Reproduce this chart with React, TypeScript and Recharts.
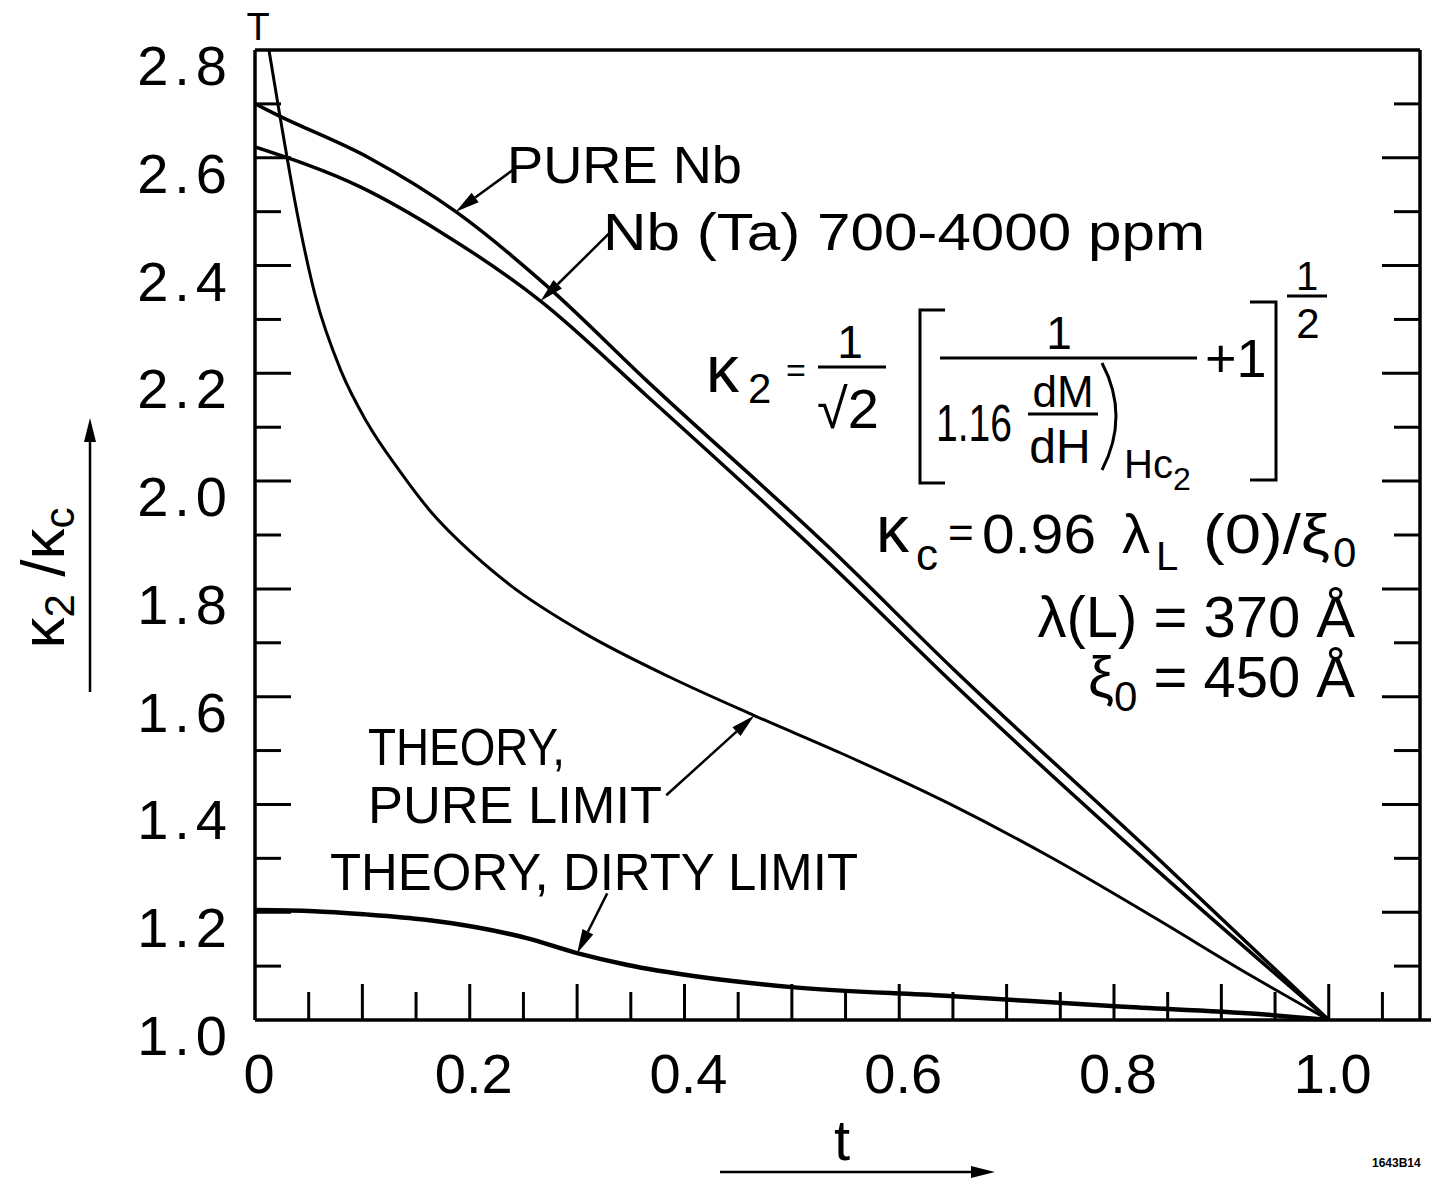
import React from "react"
import { LineChart, Line, XAxis, YAxis, ReferenceLine } from "recharts"

// reduced temperature t and kappa2/kappa_c
const pureNbT = [0, 0.02, 0.106, 0.187, 0.273, 0.365, 0.534, 0.651, 0.836, 1.0]
const pureNbK = [2.7, 2.68, 2.6, 2.5, 2.36, 2.186, 1.878, 1.65, 1.309, 1.0]

const nbTaT = [0, 0.099, 0.173, 0.266, 0.365, 0.534, 0.651, 0.836, 1.0]
const nbTaK = [2.62, 2.545, 2.462, 2.334, 2.158, 1.849, 1.623, 1.285, 1.0]

const pureLimitT = [
  0.013, 0.023, 0.039, 0.056, 0.08, 0.104, 0.135, 0.163, 0.2045, 0.237,
  0.3075, 0.3866, 0.465, 0.546, 0.648, 0.742, 0.836, 0.927, 1.0,
]
const pureLimitK = [
  2.8, 2.68, 2.5, 2.345, 2.205, 2.11, 2.018, 1.945, 1.862, 1.808,
  1.717, 1.636, 1.565, 1.495, 1.4, 1.301, 1.192, 1.083, 1.0,
]

const dirtyLimitT = [0, 0.055, 0.103, 0.159, 0.206, 0.253, 0.3, 0.347, 0.41, 0.5, 0.643, 0.805, 0.935, 1.0]
const dirtyLimitK = [1.204, 1.202, 1.196, 1.186, 1.172, 1.152, 1.124, 1.102, 1.081, 1.061, 1.045, 1.025, 1.011, 1.0]

const tTicks = [
  0, 0.05, 0.1, 0.15, 0.2, 0.25, 0.3, 0.35, 0.4, 0.45, 0.5,
  0.55, 0.6, 0.65, 0.7, 0.75, 0.8, 0.85, 0.9, 0.95, 1.0, 1.05,
]
const tLabelValues = [0, 0.2, 0.4, 0.6, 0.8, 1.0]
const tLabels = ["0", "0.2", "0.4", "0.6", "0.8", "1.0"]

const kTicks = [1.0, 1.1, 1.2, 1.3, 1.4, 1.5, 1.6, 1.7, 1.8, 1.9, 2.0, 2.1, 2.2, 2.3, 2.4, 2.5, 2.6, 2.7, 2.8]
const kLabelValues = [1.0, 1.2, 1.4, 1.6, 1.8, 2.0, 2.2, 2.4, 2.6, 2.8]
const kLabels = ["1.0", "1.2", "1.4", "1.6", "1.8", "2.0", "2.2", "2.4", "2.6", "2.8"]

const T_DOMAIN: [number, number] = [0, 1.085]
const K_DOMAIN: [number, number] = [1.0, 2.8]

const FONT = "'Liberation Sans', Arial, sans-serif"
const INK = "#000"

function zip(ts: number[], ks: number[]) {
  return ts.map((t, i) => ({ t, k: ks[i] }))
}

function labelFor(v: number, values: number[], labels: string[]) {
  const i = values.findIndex((x) => Math.abs(x - v) < 1e-6)
  return i >= 0 ? labels[i] : null
}

const isEdge = (v: number, lo: number, hi: number) => Math.abs(v - lo) < 1e-6 || Math.abs(v - hi) < 1e-6

// ticks point inward, long ones on every 0.1 in t / 0.2 in kappa
function BottomTick(props: any) {
  const { x, y, payload } = props
  const v = payload.value as number
  const major = Math.round(v * 20) % 2 === 0
  const len = v === 0 ? 0 : major ? 36 : 28
  const label = labelFor(v, tLabelValues, tLabels)
  return (
    <g>
      {len > 0 && <line x1={x} y1={y} x2={x} y2={y - len} stroke={INK} strokeWidth={3} />}
      {label && (
        <text x={x + 4} y={y + 73} textAnchor="middle" fontFamily={FONT} fontSize={56} fill={INK}>
          {label}
        </text>
      )}
    </g>
  )
}

function TopTick(props: any) {
  const { x, y, payload } = props
  const v = payload.value as number
  const major = Math.round(v * 20) % 2 === 0
  const len = v === 0 ? 0 : major ? 33 : 23
  return len > 0 ? <line x1={x} y1={y} x2={x} y2={y + len} stroke={INK} strokeWidth={3} /> : <g />
}

function LeftTick(props: any) {
  const { x, y, payload } = props
  const v = payload.value as number
  const major = Math.round(v * 10) % 2 === 0
  const len = isEdge(v, K_DOMAIN[0], K_DOMAIN[1]) ? 0 : major ? 36 : 26
  const label = labelFor(v, kLabelValues, kLabels)
  return (
    <g>
      {len > 0 && <line x1={x} y1={y} x2={x + len} y2={y} stroke={INK} strokeWidth={3} />}
      {label && (
        <text x={x - 22} y={y + 35} textAnchor="end" fontFamily={FONT} fontSize={56} letterSpacing={6} fill={INK}>
          {label}
        </text>
      )}
    </g>
  )
}

function RightTick(props: any) {
  const { x, y, payload } = props
  const v = payload.value as number
  const major = Math.round(v * 10) % 2 === 0
  const len = isEdge(v, K_DOMAIN[0], K_DOMAIN[1]) ? 0 : major ? 38 : 26
  return len > 0 ? <line x1={x} y1={y} x2={x - len} y2={y} stroke={INK} strokeWidth={3} /> : <g />
}

function Arrow(props: any) {
  const { x1, y1, x2, y2 } = props
  const a = Math.atan2(y2 - y1, x2 - x1)
  const L = 24
  const W = 6
  const bx = x2 - L * Math.cos(a)
  const by = y2 - L * Math.sin(a)
  const px = -Math.sin(a) * W
  const py = Math.cos(a) * W
  return (
    <g>
      <line x1={x1} y1={y1} x2={bx} y2={by} stroke={INK} strokeWidth={2.5} />
      <polygon points={`${x2},${y2} ${bx + px},${by + py} ${bx - px},${by - py}`} fill={INK} />
    </g>
  )
}

function Txt({ x, y, size = 54, anchor = "start", children, ...rest }: any) {
  return (
    <text x={x} y={y} fontFamily={FONT} fontSize={size} textAnchor={anchor} fill={INK} {...rest}>
      {children}
    </text>
  )
}

function Annotations() {
  const s = { stroke: INK, strokeWidth: 3, fill: "none" }
  return (
    <svg
      width={1431}
      height={1182}
      style={{ position: "absolute", left: 0, top: 0, pointerEvents: "none" }}
    >
      {/* small T mark above the frame */}
      <Txt x={258} y={40} size={38} anchor="middle">T</Txt>

      <Txt x={507} y={183} size={52} textLength={235} lengthAdjust="spacingAndGlyphs">PURE Nb</Txt>
      <Txt x={603} y={250} size={52} textLength={602} lengthAdjust="spacingAndGlyphs">Nb (Ta)  700-4000 ppm</Txt>

      {/* kappa2 formula */}
      <Txt x={706} y={392} size={66}>κ</Txt>
      <Txt x={748} y={403} size={42}>2</Txt>
      <Txt x={786} y={382} size={34}>=</Txt>
      <Txt x={850} y={358} size={46} anchor="middle">1</Txt>
      <line x1={818} y1={367} x2={886} y2={367} {...s} />
      <Txt x={848} y={428} size={56} anchor="middle">√2</Txt>
      <path d="M945,310 H920 V483 H945" {...s} />
      <Txt x={1059} y={349} size={46} anchor="middle">1</Txt>
      <line x1={940} y1={358} x2={1197} y2={358} {...s} />
      <Txt x={936} y={441} size={52} textLength={76} lengthAdjust="spacingAndGlyphs">1.16</Txt>
      <Txt x={1063} y={407} size={44} anchor="middle">dM</Txt>
      <line x1={1028} y1={414} x2={1098} y2={414} {...s} />
      <Txt x={1060} y={463} size={48} anchor="middle">dH</Txt>
      <path d="M1102,363 Q1130,416 1102,470" {...s} />
      <Txt x={1124} y={478} size={40}>
        Hc<tspan dy={12} fontSize={32}>2</tspan>
      </Txt>
      <Txt x={1205} y={377} size={54}>+1</Txt>
      <path d="M1250,302 H1276 V480 H1250" {...s} />
      <Txt x={1307} y={290} size={40} anchor="middle">1</Txt>
      <line x1={1287} y1={296} x2={1327} y2={296} {...s} />
      <Txt x={1308} y={338} size={42} anchor="middle">2</Txt>

      {/* kappa_c definition */}
      <Txt x={876} y={552} size={66}>κ</Txt>
      <Txt x={916} y={570} size={44}>c</Txt>
      <Txt x={948} y={548} size={44}>=</Txt>
      <Txt x={982} y={553} size={56} textLength={114} lengthAdjust="spacingAndGlyphs">0.96</Txt>
      <Txt x={1122} y={553} size={56}>λ</Txt>
      <Txt x={1156} y={570} size={40}>L</Txt>
      <Txt x={1203} y={553} size={56} textLength={127} lengthAdjust="spacingAndGlyphs">(0)/ξ</Txt>
      <Txt x={1333} y={567} size={42}>0</Txt>

      <Txt x={1355} y={637} size={58} anchor="end">λ(L) = 370 Å</Txt>
      <Txt x={1355} y={697} size={58} anchor="end">
        ξ<tspan dy={14} fontSize={42}>0</tspan>
        <tspan dy={-14}> = 450 Å</tspan>
      </Txt>

      <Txt x={368} y={765} size={52} textLength={197} lengthAdjust="spacingAndGlyphs">THEORY,</Txt>
      <Txt x={368} y={823} size={52} textLength={294} lengthAdjust="spacingAndGlyphs">PURE LIMIT</Txt>
      <Txt x={330} y={890} size={52} textLength={528} lengthAdjust="spacingAndGlyphs">THEORY, DIRTY LIMIT</Txt>

      {/* bottom rule runs a little past the frame */}
      <line x1={1420} y1={1020} x2={1431} y2={1020} stroke={INK} strokeWidth={3.5} />

      {/* y axis title with arrow */}
      <g transform="translate(64,578) rotate(-90)">
        <Txt x={0} y={0} size={62} anchor="middle">
          κ<tspan dy={10} fontSize={42}>2</tspan>
          <tspan dy={-10} fontSize={62}> /κ</tspan>
          <tspan dy={10} fontSize={42}>c</tspan>
        </Txt>
      </g>
      <Arrow x1={90} y1={692} x2={90} y2={418} />

      {/* x axis title with arrow */}
      <Txt x={842} y={1160} size={58} anchor="middle">t</Txt>
      <Arrow x1={720} y1={1172} x2={995} y2={1172} />

      <Txt x={1372} y={1167} size={12} fontWeight="bold">1643B14</Txt>
    </svg>
  )
}

export default function App() {
  const pureNb = zip(pureNbT, pureNbK)
  const nbTa = zip(nbTaT, nbTaK)
  const pureLimit = zip(pureLimitT, pureLimitK)
  const dirtyLimit = zip(dirtyLimitT, dirtyLimitK)

  const axisLine = { stroke: INK, strokeWidth: 3.5 }

  return (
    <div style={{ position: "absolute", left: 0, top: 0, width: 1431, height: 1182, background: "#fff" }}>
      <LineChart width={1431} height={1182} margin={{ top: 49, right: 10, bottom: 0, left: 0 }}>
        <XAxis
          xAxisId="b"
          type="number"
          dataKey="t"
          domain={T_DOMAIN}
          allowDataOverflow
          ticks={tTicks}
          interval={0}
          height={162}
          tickSize={0}
          tickMargin={0}
          tickLine={false}
          axisLine={axisLine}
          tick={BottomTick}
        />
        <XAxis
          xAxisId="top"
          orientation="top"
          type="number"
          domain={T_DOMAIN}
          allowDataOverflow
          ticks={tTicks}
          interval={0}
          height={1}
          tickSize={0}
          tickMargin={0}
          tickLine={false}
          axisLine={axisLine}
          tick={TopTick}
        />
        <YAxis
          yAxisId="l"
          type="number"
          domain={K_DOMAIN}
          allowDataOverflow
          ticks={kTicks}
          interval={0}
          width={255}
          tickSize={0}
          tickMargin={0}
          tickLine={false}
          axisLine={axisLine}
          tick={LeftTick}
        />
        <YAxis
          yAxisId="r"
          orientation="right"
          type="number"
          domain={K_DOMAIN}
          allowDataOverflow
          ticks={kTicks}
          interval={0}
          width={1}
          tickSize={0}
          tickMargin={0}
          tickLine={false}
          axisLine={axisLine}
          tick={RightTick}
        />

        <Line xAxisId="b" yAxisId="l" data={pureNb} dataKey="k" type="monotone" stroke={INK} strokeWidth={3.5} dot={false} isAnimationActive={false} />
        <Line xAxisId="b" yAxisId="l" data={nbTa} dataKey="k" type="monotone" stroke={INK} strokeWidth={3.5} dot={false} isAnimationActive={false} />
        <Line xAxisId="b" yAxisId="l" data={pureLimit} dataKey="k" type="monotone" stroke={INK} strokeWidth={3} dot={false} isAnimationActive={false} />
        <Line xAxisId="b" yAxisId="l" data={dirtyLimit} dataKey="k" type="monotone" stroke={INK} strokeWidth={4.5} dot={false} isAnimationActive={false} />

        <ReferenceLine xAxisId="b" yAxisId="l" segment={[{ x: 0.242, y: 2.58 }, { x: 0.187, y: 2.5 }]} shape={Arrow} />
        <ReferenceLine xAxisId="b" yAxisId="l" segment={[{ x: 0.33, y: 2.46 }, { x: 0.266, y: 2.334 }]} shape={Arrow} />
        <ReferenceLine xAxisId="b" yAxisId="l" segment={[{ x: 0.383, y: 1.417 }, { x: 0.465, y: 1.565 }]} shape={Arrow} />
        <ReferenceLine xAxisId="b" yAxisId="l" segment={[{ x: 0.328, y: 1.235 }, { x: 0.3, y: 1.124 }]} shape={Arrow} />
      </LineChart>
      <Annotations />
    </div>
  )
}
